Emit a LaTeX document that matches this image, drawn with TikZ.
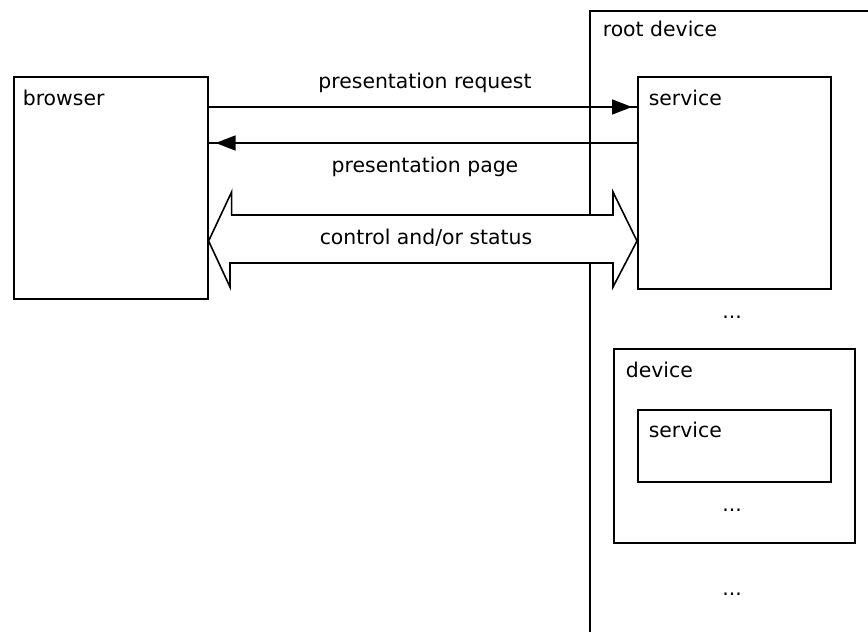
\documentclass[tikz,border=0pt]{standalone}
\usepackage{fontspec}
\setmainfont{DejaVu Sans}
\usetikzlibrary{arrows.meta}
\begin{document}
\begin{tikzpicture}[x=1pt,y=-1pt,
  line width=1.6pt,
  box/.style={draw=black, line width=1.6pt, inner sep=0pt, anchor=north west},
  lbl/.style={anchor=base west, inner sep=0pt, font=\fontsize{20.4}{24}\selectfont},
  clbl/.style={anchor=base, inner sep=0pt, font=\fontsize{20.4}{24}\selectfont},
  tip/.style={-{Triangle[length=20pt,width=15pt]}}]
\useasboundingbox (0,0) rectangle (868,632);
\fill[white] (0,0) rectangle (868,632);

% boxes
\node[box, minimum width=400pt, minimum height=700pt] (root) at (589,10) {};
\node[box, minimum width=194pt, minimum height=222pt] (browser) at (13,76) {};
\node[box, minimum width=193pt, minimum height=212pt] (svc) at (637,76) {};
\node[box, minimum width=241pt, minimum height=194pt] (dev) at (613,348) {};
\node[box, minimum width=193pt, minimum height=72pt] (isvc) at (637,409) {};

% box titles
\node[lbl] (tbrowser) at (22,105) {browser};
\node[lbl] (troot) at (602,36) {root device};
\node[lbl] (tsvc) at (648,105) {service};
\node[lbl] (tdev) at (625,377) {device};
\node[lbl] (tisvc) at (648,437) {service};

% ellipses
\node[clbl] (dots1) at (732,318) {...};
\node[clbl] (dots2) at (732,511) {...};
\node[clbl] (dots3) at (732,595) {...};

% request / page connectors
\coordinate (yreq) at (0,107);
\coordinate (ypage) at (0,143);
\coordinate (yctl) at (0,241);
\draw (browser.east |- yreq) -- (svc.west |- yreq);
\draw[tip, shorten >=5pt] (browser.east |- yreq) -- (svc.west |- yreq);
\draw (svc.west |- ypage) -- (browser.east |- ypage);
\draw[tip, shorten >=7pt] (svc.west |- ypage) -- (browser.east |- ypage);
\node[clbl] (lreq) at (425,88) {presentation request};
\node[clbl] (lpage) at (425,172) {presentation page};

% control / status block arrow
\coordinate (ltip) at (browser.east |- yctl);
\coordinate (rtip) at (svc.west |- yctl);
\draw[fill=white, line join=miter]
  (ltip) -- ++(23,-49) -- ++(0,23) -- (613,215) -- (613,192) -- (rtip)
  -- (613,287) -- (613,263) -- (230,263) -- (230,287) -- cycle;
\node[clbl] (lctl) at (426,244) {control and/or status};
\end{tikzpicture}
\end{document}
